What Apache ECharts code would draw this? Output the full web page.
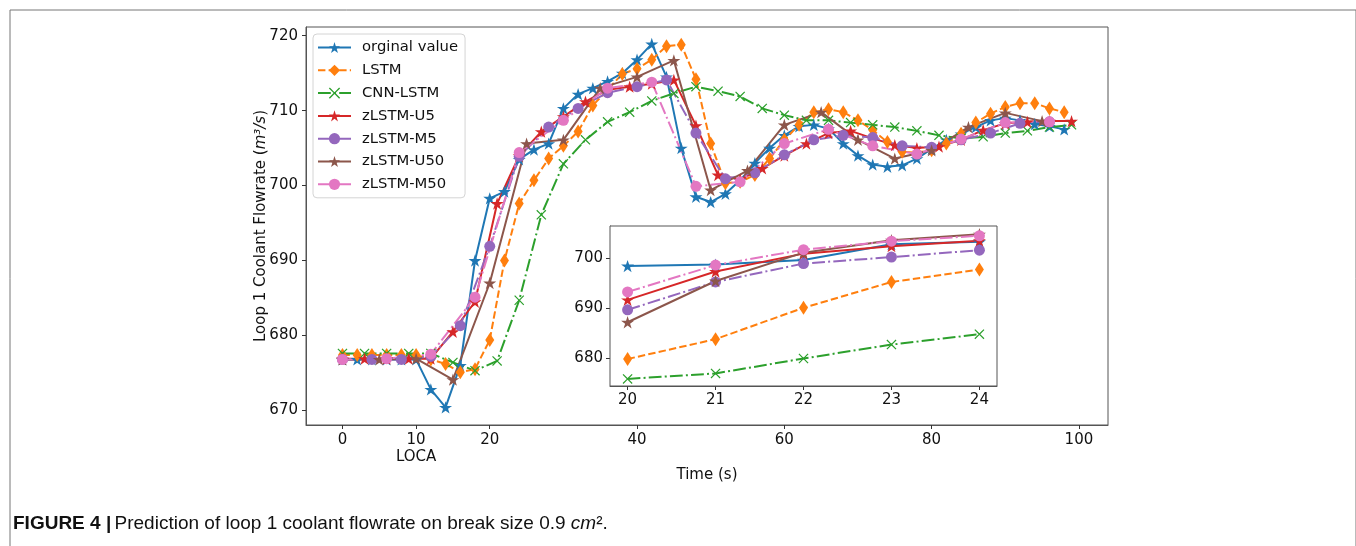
<!DOCTYPE html>
<html>
<head>
<meta charset="utf-8">
<script src="https://cdn.jsdelivr.net/npm/echarts@6/dist/echarts.min.js"></script>
<style>
  html, body { margin: 0; padding: 0; background: #fff; }
  #chart { width: 1356px; height: 546px; }
</style>
</head>
<body>
<div id="chart"></div>
<script>
// Series names
const seriesNames = ['orginal value', 'LSTM', 'CNN-LSTM', 'zLSTM-U5', 'zLSTM-M5', 'zLSTM-U50', 'zLSTM-M50'];

// Time stamps (s) for each series
const timeOriginal = [0,2,4,6,8,10,12,14,16,18,20,22,24,26,28,30,32,34,36,38,40,42,44,46,48,50,52,54,56,58,60,62,64,66,68,70,72,74,76,78,80,82,84,86,88,90,92,94,96,98];
const timeLSTM = [0,2,4,6,8,10,12,14,16,18,20,22,24,26,28,30,32,34,36,38,40,42,44,46,48,50,52,54,56,58,60,62,64,66,68,70,72,74,76,78,80,82,84,86,88,90,92,94,96,98];
const timeCNN = [0,3,6,9,12,15,18,21,24,27,30,33,36,39,42,45,48,51,54,57,60,63,66,69,72,75,78,81,84,87,90,93,96,99];
const timeU5 = [0,3,6,9,12,15,18,21,24,27,30,33,36,39,42,45,48,51,54,57,60,63,66,69,72,75,78,81,84,87,90,93,96,99];
const timeM5 = [0,4,8,12,16,20,24,28,32,36,40,44,48,52,56,60,64,68,72,76,80,84,88,92,96];
const timeU50 = [0,5,10,15,20,25,30,35,40,45,50,55,60,65,70,75,80,85,90,95];
const timeM50 = [0,6,12,18,24,30,36,42,48,54,60,66,72,78,84,90,96];

// Loop 1 coolant flowrate (m3/s)
const flowOriginal = [676.8,676.8,676.8,676.8,676.8,676.8,672.8,670.4,676.0,690.0,698.3,699.2,703.5,704.8,705.6,710.3,712.2,713.0,713.9,715.0,716.8,718.9,714.5,705.0,698.5,697.8,698.9,700.7,703.0,705.0,706.7,707.9,708.1,707.6,705.6,704.0,702.8,702.5,702.7,703.6,704.9,706.1,706.9,707.8,708.7,709.0,708.7,708.2,707.9,707.5];
const flowLSTM = [677.4,677.4,677.4,677.4,677.4,677.4,676.8,676.2,675.1,675.5,679.4,690.0,697.6,700.7,703.6,705.3,707.2,710.7,712.8,714.9,715.6,716.8,718.6,718.8,714.2,705.6,700.3,700.5,701.4,703.6,706.1,708.1,709.8,710.2,709.8,708.7,707.4,705.8,704.5,704.4,704.7,705.6,706.9,708.4,709.6,710.5,711.0,711.0,710.3,709.8];
const flowCNN = [677.6,677.6,677.6,677.6,677.6,676.4,675.3,676.6,684.7,696.1,702.9,706.1,708.5,709.8,711.3,712.3,713.2,712.6,711.9,710.3,709.4,708.7,708.7,708.4,708.1,707.8,707.3,706.7,706.3,706.5,707.0,707.3,707.8,708.1];
const flowU5 = [676.9,676.9,676.9,676.9,676.9,680.5,684.5,697.6,704.0,707.2,709.2,711.2,712.8,713.2,713.6,714.1,708.0,701.4,700.8,702.3,704.0,705.6,707.0,707.3,706.3,705.4,705.0,705.2,706.1,707.4,708.3,708.5,708.6,708.6];
const flowM5 = [676.8,676.8,676.8,677.2,681.3,691.9,703.9,707.8,710.3,712.4,713.2,714.1,707.0,700.9,701.7,704.1,706.1,706.7,706.4,705.3,705.1,706.1,707.0,708.3,708.5];
const flowU50 = [676.8,676.8,676.9,674.1,687.0,705.6,706.1,713.0,714.5,716.7,699.4,702.0,708.1,709.8,706.1,703.6,704.7,707.8,709.7,708.6];
const flowM50 = [676.8,676.9,677.5,685.1,704.4,708.7,713.0,713.8,699.9,700.5,705.6,707.5,705.3,704.2,706.2,708.4,708.5];

// Zoomed view, t = 20 ... 24 s
const insetTime = [20, 21, 22, 23, 24];
const insetOriginal = [698.5, 698.8, 699.7, 702.9, 703.4];
const insetLSTM = [679.8, 683.8, 690.1, 695.3, 697.8];
const insetCNN = [675.8, 676.9, 679.9, 682.7, 684.8];
const insetU5 = [691.7, 697.4, 701.0, 702.5, 703.6];
const insetM5 = [689.7, 695.3, 699.0, 700.3, 701.7];
const insetU50 = [687.2, 695.5, 701.2, 703.7, 704.9];
const insetM50 = [693.3, 698.7, 701.8, 703.5, 704.6];

// Axis ticks
const xTicks = [0, 10, 20, 40, 60, 80, 100];
const yTicks = [670, 680, 690, 700, 710, 720];
const insetXTicks = [20, 21, 22, 23, 24];
const insetYTicks = [680, 690, 700];

// Marker shapes
function starPath() {
  const pts = [];
  for (let i = 0; i < 10; i++) {
    const r = i % 2 === 0 ? 1 : 0.382;
    const a = (-90 + 36 * i) * Math.PI / 180;
    pts.push((r * Math.cos(a)).toFixed(4) + ',' + (r * Math.sin(a)).toFixed(4));
  }
  return 'path://M' + pts.join(' L') + ' Z';
}
const STAR = starPath();
const CROSS = 'path://M0,-0.17 L0.83,-1 L1,-0.83 L0.17,0 L1,0.83 L0.83,1 L0,0.17 L-0.83,1 L-1,0.83 L-0.17,0 L-1,-0.83 L-0.83,-1 Z';

const DASH = [7.4, 3.2];
const DASHDOT = [12.8, 3.2, 2, 3.2];
const styles = [
  { color: '#1f77b4', dash: 'solid', symbol: STAR, size: 13 },
  { color: '#ff7f0e', dash: DASH, symbol: 'diamond', size: [9, 14] },
  { color: '#2ca02c', dash: DASHDOT, symbol: CROSS, size: 10 },
  { color: '#d62728', dash: 'solid', symbol: STAR, size: 13 },
  { color: '#9467bd', dash: DASHDOT, symbol: 'circle', size: 11 },
  { color: '#8c564b', dash: 'solid', symbol: STAR, size: 13 },
  { color: '#e377c2', dash: DASHDOT, symbol: 'circle', size: 11 }
];

const mainTimes = [timeOriginal, timeLSTM, timeCNN, timeU5, timeM5, timeU50, timeM50];
const mainFlows = [flowOriginal, flowLSTM, flowCNN, flowU5, flowM5, flowU50, flowM50];
const insetFlows = [insetOriginal, insetLSTM, insetCNN, insetU5, insetM5, insetU50, insetM50];

function pairs(xs, ys) { return xs.map((x, i) => [x, ys[i]]); }

function makeSeries(name, st, data, idx) {
  return {
    name: name,
    type: 'line',
    xAxisIndex: idx,
    yAxisIndex: idx,
    data: data,
    symbol: st.symbol,
    symbolSize: st.size,
    symbolKeepAspect: true,
    showAllSymbol: true,
    animation: false,
    lineStyle: { color: st.color, width: 2, type: st.dash },
    itemStyle: { color: st.color, borderWidth: 0 },
    emphasis: { disabled: true },
    z: idx === 0 ? 2 : 6
  };
}

const series = [];
seriesNames.forEach((n, i) => series.push(makeSeries(n, styles[i], pairs(mainTimes[i], mainFlows[i]), 0)));
seriesNames.forEach((n, i) => series.push(makeSeries(n, styles[i], pairs(insetTime, insetFlows[i]), 1)));

const FONT = 'DejaVu Sans';
const CAPFONT = 'Liberation Sans Narrow, Liberation Sans, Arial';
const axisColor = '#555';

const chart = echarts.init(document.getElementById('chart'), null, { renderer: 'canvas' });
chart.setOption({
  animation: false,
  backgroundColor: '#fff',
  grid: [
    { left: 306, top: 27, width: 802, height: 398, show: true, borderColor: axisColor, borderWidth: 1, backgroundColor: 'transparent' },
    { left: 610, top: 226, width: 387, height: 160, show: true, borderColor: axisColor, borderWidth: 1, backgroundColor: '#fff', z: 3 }
  ],
  xAxis: [
    {
      type: 'value', gridIndex: 0, min: -4.95, max: 103.95,
      name: 'Time (s)', nameLocation: 'middle', nameGap: 43, nameMoveOverlap: false,
      nameTextStyle: { fontFamily: FONT, fontSize: 15, color: '#111' },
      axisLine: { show: true, onZero: false, lineStyle: { color: axisColor, width: 1 } },
      axisTick: { show: true, length: 4, customValues: xTicks, lineStyle: { color: '#333' } },
      axisLabel: {
        customValues: xTicks, margin: 7, fontFamily: FONT, fontSize: 15, color: '#111', lineHeight: 17,
        formatter: v => (v === 10 ? '10\nLOCA' : String(v))
      },
      splitLine: { show: false }
    },
    {
      type: 'value', gridIndex: 1, min: 19.8, max: 24.2,
      axisLine: { show: true, onZero: false, lineStyle: { color: axisColor, width: 1 } },
      axisTick: { show: true, length: 4, customValues: insetXTicks, lineStyle: { color: '#333' } },
      axisLabel: { customValues: insetXTicks, margin: 7, fontFamily: FONT, fontSize: 15, color: '#111' },
      splitLine: { show: false }
    }
  ],
  yAxis: [
    {
      type: 'value', gridIndex: 0, min: 668.05, max: 721.16,
      name: '{t|Loop 1 Coolant Flowrate (}{i|m³/s}{t|)}', nameLocation: 'middle', nameGap: 37, nameRotate: 90,
      nameMoveOverlap: false,
      nameTextStyle: {
        fontFamily: FONT, fontSize: 15, color: '#111',
        rich: {
          t: { fontFamily: FONT, fontSize: 15, color: '#111' },
          i: { fontFamily: FONT, fontSize: 15, color: '#111', fontStyle: 'italic' }
        }
      },
      axisLine: { show: true, onZero: false, lineStyle: { color: axisColor, width: 1 } },
      axisTick: { show: true, length: 4, customValues: yTicks, lineStyle: { color: '#333' } },
      axisLabel: { customValues: yTicks, margin: 8, fontFamily: FONT, fontSize: 15, color: '#111' },
      splitLine: { show: false }
    },
    {
      type: 'value', gridIndex: 1, min: 674.37, max: 706.56,
      axisLine: { show: true, onZero: false, lineStyle: { color: axisColor, width: 1 } },
      axisTick: { show: true, length: 4, customValues: insetYTicks, lineStyle: { color: '#333' } },
      axisLabel: { customValues: insetYTicks, margin: 7, fontFamily: FONT, fontSize: 15, color: '#111' },
      splitLine: { show: false }
    }
  ],
  legend: {
    orient: 'vertical', left: 313, top: 34,
    padding: [6, 7, 6, 4], itemGap: 7.8, itemWidth: 33, itemHeight: 14,
    backgroundColor: 'rgba(255,255,255,0.85)', borderColor: '#d4d4d4', borderWidth: 1, borderRadius: 4,
    textStyle: { fontFamily: FONT, fontSize: 14.8, color: '#111', padding: [0, 0, 0, 6] },
    data: seriesNames,
    z: 10
  },
  graphic: [
    {
      type: 'rect', left: 7.5, top: 7.5, silent: true, z: -1,
      shape: { width: 1346, height: 560 },
      style: { fill: 'none', stroke: '#777', lineWidth: 1 }
    },
    {
      type: 'text', left: 13, top: 514, silent: true,
      style: {
        text: '{b|FIGURE 4 |} {r|Prediction of loop 1 coolant flowrate on break size 0.9 }{i|cm}{r|².}',
        rich: {
          b: { fontFamily: CAPFONT, fontWeight: 'bold', fontSize: 19, fill: '#111' },
          r: { fontFamily: CAPFONT, fontSize: 19, fill: '#111' },
          i: { fontFamily: CAPFONT, fontStyle: 'italic', fontSize: 19, fill: '#111' }
        }
      }
    }
  ],
  series: series
});
</script>
</body>
</html>
